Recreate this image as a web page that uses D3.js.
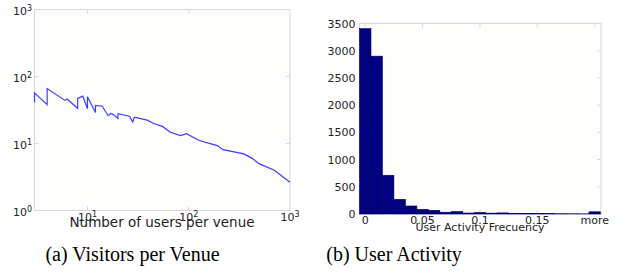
<!DOCTYPE html>
<html>
<head>
<meta charset="utf-8">
<script src="https://cdn.jsdelivr.net/npm/d3@7"></script>
<style>
  body { margin: 0; background: #fff; }
  text { font-family: "DejaVu Sans", sans-serif; fill: #222; }
  .caption { font-family: "Liberation Serif", "Times New Roman", serif; fill: #000; }
</style>
</head>
<body>
<div id="chart"></div>
<script>
// (a) visitors per venue -- log/log line
const venueUsers  = [3, 3, 4, 4, 6, 6.3, 8, 8, 9, 10, 10, 12, 12, 14, 16, 17, 18, 20, 20, 26, 28, 29, 39, 45, 55, 66, 83, 95, 127, 191, 218, 350, 423, 494, 700, 1000];
const venueCounts = [41, 57, 38, 66, 44, 46, 33.5, 47, 51, 33, 50, 29, 37, 36, 26, 28, 27, 23.6, 27.8, 25.5, 21, 24.7, 22.3, 19.9, 18, 14.7, 13.1, 14, 11.1, 9.3, 8.1, 7.0, 6.0, 5.0, 4.0, 2.64];
const logTicks = [1, 10, 100, 1000];

// (b) user activity histogram, bins of 0.01, last one is "more"
const activityBins   = [0, 0.01, 0.02, 0.03, 0.04, 0.05, 0.06, 0.07, 0.08, 0.09, 0.10, 0.11, 0.12, 0.13, 0.14, 0.15, 0.16, 0.17, 0.18, 0.19, 0.20];
const activityCounts = [3405, 2900, 712, 270, 147, 86, 68, 33, 45, 18, 28, 16, 20, 12, 9, 8, 6, 5, 4, 3, 40];
const activityTicks  = [0, 0.05, 0.1, 0.15, 0.2];
const activityTickLabels = ["0", "0.05", "0.1", "0.15", "more"];
const countTicks = [0, 500, 1000, 1500, 2000, 2500, 3000, 3500];

const svg = d3.select("#chart").append("svg")
  .attr("width", 621)
  .attr("height", 274);

const frameColor = "#d8d8d8";
const plotBg = "#fdfdfc";

// ---------- left panel ----------
const x1 = d3.scaleLog().domain([3, 1000]).range([34.5, 290]);
const y1 = d3.scaleLog().domain([1, 1000]).range([210.5, 9.5]);

const left = svg.append("g");
left.append("rect")
  .attr("x", 34.5).attr("y", 9.5)
  .attr("width", 290 - 34.5).attr("height", 210.5 - 9.5)
  .attr("fill", plotBg).attr("stroke", frameColor);

// small inward ticks on all sides
logTicks.forEach(t => {
  if (t > 3 && t < 1000) {
    left.append("line").attr("x1", x1(t)).attr("x2", x1(t)).attr("y1", 210.5).attr("y2", 206.5).attr("stroke", frameColor);
    left.append("line").attr("x1", x1(t)).attr("x2", x1(t)).attr("y1", 9.5).attr("y2", 13.5).attr("stroke", frameColor);
  }
  if (t > 1 && t < 1000) {
    left.append("line").attr("x1", 34.5).attr("x2", 38.5).attr("y1", y1(t)).attr("y2", y1(t)).attr("stroke", frameColor);
    left.append("line").attr("x1", 290).attr("x2", 286).attr("y1", y1(t)).attr("y2", y1(t)).attr("stroke", frameColor);
  }
});

function powLabel(g, x, y, exp, anchor) {
  const t = g.append("text")
    .attr("x", x).attr("y", y)
    .attr("text-anchor", anchor)
    .style("font-size", "11px");
  t.append("tspan").text("10");
  t.append("tspan").text(exp).attr("dy", -4).style("font-size", "8px");
}

logTicks.forEach(t => {
  powLabel(left, 32, y1(t) + 5, Math.round(Math.log10(t)), "end");
});
logTicks.filter(t => t >= 10).forEach(t => {
  powLabel(left, x1(t), 221, Math.round(Math.log10(t)), "middle");
});

left.append("path")
  .datum(d3.zip(venueUsers, venueCounts))
  .attr("fill", "none")
  .attr("stroke", "#3b3bff")
  .attr("stroke-width", 1.2)
  .attr("d", d3.line().x(d => x1(d[0])).y(d => y1(d[1])));

left.append("text")
  .attr("x", 162).attr("y", 227)
  .attr("text-anchor", "middle")
  .style("font-size", "13.5px")
  .text("Number of users per venue");

// ---------- right panel ----------
const x2 = d3.scaleLinear().domain([-0.005, 0.2055]).range([359.5, 601]);
const y2 = d3.scaleLinear().domain([0, 3500]).range([214, 23.5]);

const right = svg.append("g");
right.append("rect")
  .attr("x", 359.5).attr("y", 23.5)
  .attr("width", 601 - 359.5).attr("height", 214 - 23.5)
  .attr("fill", plotBg).attr("stroke", frameColor);

activityTicks.forEach(t => {
  right.append("line").attr("x1", x2(t)).attr("x2", x2(t)).attr("y1", 214).attr("y2", 210).attr("stroke", frameColor);
  right.append("line").attr("x1", x2(t)).attr("x2", x2(t)).attr("y1", 23.5).attr("y2", 27.5).attr("stroke", frameColor);
});
countTicks.forEach(t => {
  right.append("line").attr("x1", 359.5).attr("x2", 363.5).attr("y1", y2(t)).attr("y2", y2(t)).attr("stroke", frameColor);
  right.append("line").attr("x1", 601).attr("x2", 597).attr("y1", y2(t)).attr("y2", y2(t)).attr("stroke", frameColor);
});

right.selectAll("rect.bar")
  .data(d3.zip(activityBins, activityCounts))
  .enter().append("rect")
  .attr("class", "bar")
  .attr("x", d => x2(d[0] - 0.005))
  .attr("width", d => x2(d[0] + 0.005) - x2(d[0] - 0.005))
  .attr("y", d => y2(d[1]))
  .attr("height", d => y2(0) - y2(d[1]))
  .attr("fill", "#000080")
  .attr("stroke", "#00005a")
  .attr("stroke-width", 0.6);

countTicks.forEach(t => {
  right.append("text")
    .attr("x", 355.5).attr("y", y2(t) + 4)
    .attr("text-anchor", "end")
    .style("font-size", "11px")
    .text(t);
});
activityTicks.forEach((t, i) => {
  right.append("text")
    .attr("x", x2(t)).attr("y", 224)
    .attr("text-anchor", "middle")
    .style("font-size", "11px")
    .text(activityTickLabels[i]);
});

right.append("text")
  .attr("x", 480).attr("y", 230.5)
  .attr("text-anchor", "middle")
  .style("font-size", "11px")
  .text("User Activity Frecuency");

// ---------- captions ----------
svg.append("text").attr("class", "caption")
  .attr("x", 132.5).attr("y", 261)
  .attr("text-anchor", "middle")
  .style("font-size", "20px")
  .text("(a) Visitors per Venue");
svg.append("text").attr("class", "caption")
  .attr("x", 394).attr("y", 261)
  .attr("text-anchor", "middle")
  .style("font-size", "20px")
  .text("(b) User Activity");
</script>
</body>
</html>
